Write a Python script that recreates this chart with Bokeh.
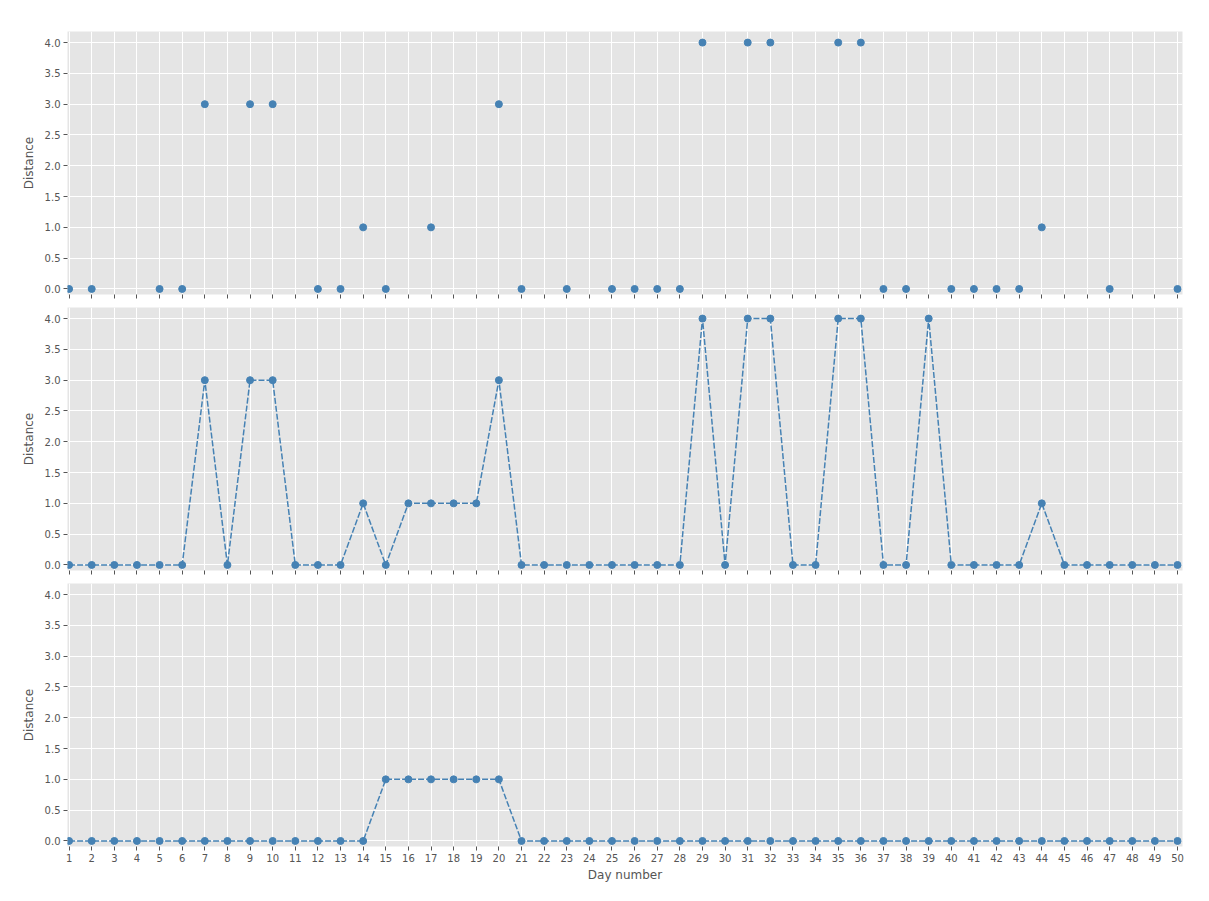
from bokeh.plotting import figure
from bokeh.layouts import column
from bokeh.models import Range1d, FixedTicker, PrintfTickFormatter
from bokeh.embed import file_html
from bokeh.resources import INLINE

# ---- data ----
days = list(range(1, 51))
top_days = [1, 2, 5, 6, 7, 9, 10, 12, 13, 14, 15, 17, 20, 21, 23, 25, 26, 27, 28, 29,
            31, 32, 35, 36, 37, 38, 40, 41, 42, 43, 44, 47, 50]
top_vals = [0, 0, 0, 0, 3, 3, 3, 0, 0, 1, 0, 1, 3, 0, 0, 0, 0, 0, 0, 4,
            4, 4, 4, 4, 0, 0, 0, 0, 0, 0, 1, 0, 0]
mid_vals = [0, 0, 0, 0, 0, 0, 3, 0, 3, 3,
            0, 0, 0, 1, 0, 1, 1, 1, 1, 3,
            0, 0, 0, 0, 0, 0, 0, 0, 4, 0,
            4, 4, 0, 0, 4, 4, 0, 0, 4, 0,
            0, 0, 0, 1, 0, 0, 0, 0, 0, 0]
bot_vals = [0] * 14 + [1, 1, 1, 1, 1, 1] + [0] * 30
y_ticks = [0.0, 0.5, 1.0, 1.5, 2.0, 2.5, 3.0, 3.5, 4.0]
y_label = "Distance"
x_label = "Day number"

COLOR = "#4682B4"
GRAY = "#555555"
FONT = "DejaVu Sans"
W = 1200
LEFT = 67
FRAME_W = 1115

xr = Range1d(0.93, 50.22)


def make_fig(height, top, bottom, show_labels):
    p = figure(width=W, height=height, output_backend="svg", toolbar_location=None,
               x_range=xr, y_range=Range1d(-0.09, 4.18),
               min_border_left=LEFT, min_border_right=W - LEFT - FRAME_W,
               min_border_top=top, min_border_bottom=bottom)
    p.background_fill_color = "#E5E5E5"
    p.border_fill_color = "white"
    p.outline_line_color = None
    p.xgrid.grid_line_color = "white"
    p.ygrid.grid_line_color = "white"
    p.xgrid.grid_line_width = 1
    p.ygrid.grid_line_width = 1
    p.xaxis.ticker = FixedTicker(ticks=days)
    p.yaxis.ticker = FixedTicker(ticks=y_ticks)
    p.yaxis.formatter = PrintfTickFormatter(format="%.1f")
    for ax in (p.xaxis[0], p.yaxis[0]):
        ax.axis_line_color = None
        ax.major_tick_line_color = GRAY
        ax.major_tick_out = 4
        ax.major_tick_in = 0
        ax.minor_tick_line_color = None
        ax.major_label_text_color = GRAY
        ax.major_label_text_font = FONT
        ax.major_label_text_font_size = "10px"
        ax.major_label_standoff = 3
        ax.axis_label_text_color = GRAY
        ax.axis_label_text_font = FONT
        ax.axis_label_text_font_size = "12px"
        ax.axis_label_text_font_style = "normal"
    p.yaxis.axis_label = y_label
    p.yaxis.axis_label_standoff = 6
    if show_labels:
        p.xaxis.axis_label = x_label
        p.xaxis.axis_label_standoff = 3
    else:
        p.xaxis.major_label_text_font_size = "1px"
        p.xaxis.major_label_text_color = None
        p.xaxis.major_label_standoff = 0
    return p


p1 = make_fig(304, 31, 10, False)
p1.scatter(top_days, top_vals, size=7, color=COLOR)

p2 = make_fig(276, 3, 10, False)
p2.line(days, mid_vals, line_color=COLOR, line_width=1.5, line_dash="6 2")
p2.scatter(days, mid_vals, size=7, color=COLOR)

p3 = make_fig(306, 3, 40, True)
p3.line(days, bot_vals, line_color=COLOR, line_width=1.5, line_dash="6 2")
p3.scatter(days, bot_vals, size=7, color=COLOR)

layout = column(p1, p2, p3, spacing=0)
open("out.html", "w").write(file_html(layout, INLINE))
